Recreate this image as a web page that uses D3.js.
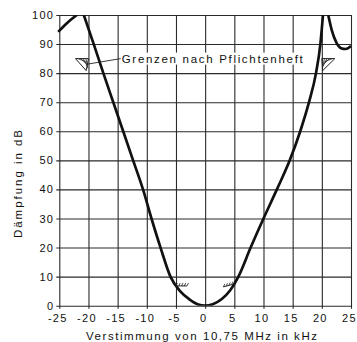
<!DOCTYPE html>
<html>
<head>
<meta charset="utf-8">
<script src="https://cdn.jsdelivr.net/npm/d3@7"></script>
<style>
  html, body { margin: 0; padding: 0; background: #fff; }
  svg { display: block; font-family: "Liberation Sans", Arial, sans-serif; }
</style>
</head>
<body>
<svg id="chart" width="357" height="342"></svg>
<script>
// tick values
const xTicks = [-25, -20, -15, -10, -5, 0, 5, 10, 15, 20, 25];
const yTicks = [0, 10, 20, 30, 40, 50, 60, 70, 80, 90, 100];

// main selectivity curve (kHz / dB)
const mainKhz = [-20.8, -19.1, -17.45, -15.75, -14.05, -12.35, -10.65, -9.2, -7.65, -5.95, -4.3, -2.7, -1.3, 0,
                 1.3, 2.8, 4.3, 5.7, 7.8, 10.0, 12.3, 14.5, 16.3, 17.8, 19.0, 19.75, 20.2];
const mainDb  = [100, 90, 80, 70, 60, 50, 40, 30, 20, 10, 5, 2.2, 0.5, 0,
                 0.5, 2.2, 5.3, 10, 20, 30, 40, 50, 60, 70, 80, 90, 100];

// neighbouring channel flanks at the edges
const leftFlankKhz = [-25.2, -23.7, -22.0];
const leftFlankDb  = [94.2, 97.2, 100];
const rightFlankKhz = [21.1, 21.7, 22.5, 23.3, 24.1, 25.0];
const rightFlankDb  = [100, 94.8, 90.5, 88.6, 88.3, 89.3];

// limits "nach Pflichtenheft"
const stopKhz = [-20, 20];
const stopDb = [85, 85];
const passKhz = [-5, 5];
const passDb = [6.8, 7.5];

const labelText = "Grenzen nach Pflichtenheft";
const xTitle = "Verstimmung von 10,75 MHz in kHz";
const yTitle = "Dämpfung in dB";

const svg = d3.select("#chart");
const margin = {left: 59.3, top: 15, right: 6, bottom: 36.3};
const w = 357 - margin.left - margin.right;
const h = 342 - margin.top - margin.bottom;

const x = d3.scaleLinear().domain([-25, 25]).range([0, w]);
const y = d3.scaleLinear().domain([0, 100]).range([h, 0]);

const g = svg.append("g").attr("transform", `translate(${margin.left},${margin.top})`);

// grid + axes (tick lines stretched over the plot)
const yAxis = g.append("g")
  .call(d3.axisLeft(y).tickValues(yTicks).tickSize(-w).tickPadding(5).tickFormat(d3.format("d")));
yAxis.select(".domain").remove();
yAxis.selectAll("line").attr("x1", -3).attr("stroke", "#2a2a2a").attr("stroke-width", 1.1);
yAxis.selectAll("text")
  .attr("font-size", 11).attr("letter-spacing", 1.3).attr("fill", "#111");

const xAxis = g.append("g").attr("transform", `translate(0,${h})`)
  .call(d3.axisBottom(x).tickValues(xTicks).tickSize(-h).tickPadding(8.5)
    .tickFormat(d => d < 0 ? "-" + Math.abs(d) : String(d)));
xAxis.select(".domain").remove();
xAxis.selectAll("line").attr("y1", 3).attr("stroke", "#2a2a2a").attr("stroke-width", 1.1);
xAxis.selectAll("text")
  .attr("font-size", 11).attr("letter-spacing", 1.3).attr("fill", "#111")
  .attr("dx", -2);

// clip for curves
svg.append("defs").append("clipPath").attr("id", "plotclip")
  .append("rect").attr("x", -2).attr("y", 0).attr("width", w + 2).attr("height", h);

const line = d3.line()
  .x(d => x(d[0])).y(d => y(d[1]))
  .curve(d3.curveMonotoneX);

const curves = g.append("g").attr("clip-path", "url(#plotclip)");
[[mainKhz, mainDb], [leftFlankKhz, leftFlankDb], [rightFlankKhz, rightFlankDb]].forEach(([k, v]) => {
  curves.append("path")
    .datum(k.map((d, i) => [d, v[i]]))
    .attr("fill", "none")
    .attr("stroke", "#111")
    .attr("stroke-width", 2.7)
    .attr("stroke-linejoin", "round")
    .attr("d", line);
});

// label with white background
const lx = x(-14.3), ly = y(85);
g.append("rect").attr("x", lx - 2).attr("y", ly - 6).attr("width", 185).attr("height", 12).attr("fill", "#fff");
g.append("text")
  .attr("x", lx).attr("y", ly + 4)
  .attr("font-size", 11.5)
  .attr("textLength", 181).attr("lengthAdjust", "spacing")
  .attr("fill", "#111")
  .text(labelText);

// stop-band limit markers (hatched triangles)
const mk = g.append("g").attr("fill", "none").attr("stroke", "#222").attr("stroke-width", 1);
stopKhz.forEach((k, i) => {
  const ax = x(k), ay = y(stopDb[i]);
  const s = k < 0 ? -1 : 1;
  const tri = [[ax, ay], [ax + s * 13, ay], [ax + s * 0.3 - (s < 0 ? 2 : -0.5), ay + 12]];
  mk.append("path").attr("d", d3.line()(tri) + "Z");
  // hatch
  for (let j = 1; j <= 4; j++) {
    const t = j / 5;
    const px = ax + s * 13 * t;
    mk.append("line")
      .attr("x1", px).attr("y1", ay)
      .attr("x2", ax + s * 13 * t * 0.25).attr("y2", ay + 12 * (1 - t) * 0.9 + 1)
      .attr("stroke-width", 0.8);
  }
});
// leader line from left triangle to label
mk.append("line")
  .attr("x1", x(stopKhz[0]) - 1.5).attr("y1", y(stopDb[0]) + 5.6)
  .attr("x2", lx - 1).attr("y2", ly)
  .attr("stroke-width", 0.9);

// pass-band limit markers (short hatched lines)
passKhz.forEach((k, i) => {
  const ax = x(k), ay = y(passDb[i]);
  const s = k < 0 ? 1 : -1;
  const bx = ax + s * 11, by = ay + (k < 0 ? 0 : 3);
  mk.append("line").attr("x1", ax).attr("y1", ay).attr("x2", bx).attr("y2", by);
  for (let j = 0; j <= 4; j++) {
    const t = j / 4;
    const px = ax + (bx - ax) * t, py = ay + (by - ay) * t;
    mk.append("line")
      .attr("x1", px).attr("y1", py)
      .attr("x2", px + 1.5).attr("y2", py - 3)
      .attr("stroke-width", 0.8);
  }
});

// axis titles
svg.append("text")
  .attr("x", 86).attr("y", 339.5)
  .attr("font-size", 11.5)
  .attr("textLength", 231).attr("lengthAdjust", "spacing")
  .attr("fill", "#111")
  .text(xTitle);

svg.append("text")
  .attr("transform", "translate(22,238) rotate(-90)")
  .attr("font-size", 11.5)
  .attr("textLength", 108).attr("lengthAdjust", "spacing")
  .attr("fill", "#111")
  .text(yTitle);
</script>
</body>
</html>
